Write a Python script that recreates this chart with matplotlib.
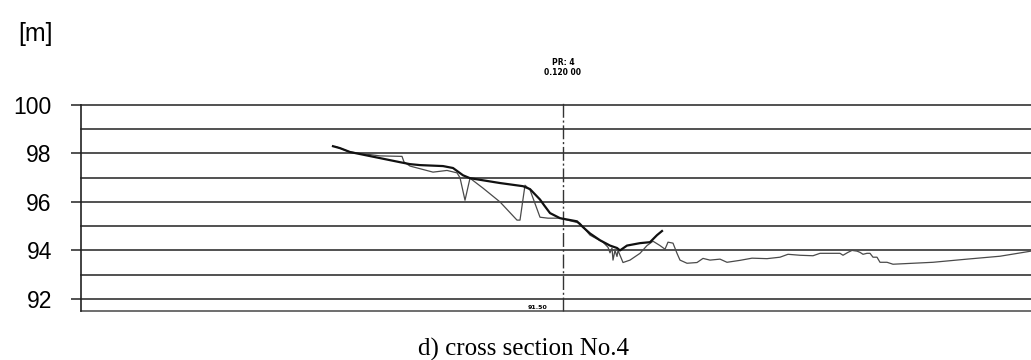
import matplotlib.pyplot as plt
import numpy as np

# cross section No.4 - station [m] and elevation [m]
new_x = [25.2, 25.9, 26.9, 29.4, 31.9, 32.9, 33.9, 36.2, 37.2, 38.2,
         38.9, 41.9, 44.2, 44.9, 45.9, 46.3, 46.9, 47.9, 49.6, 50.2,
         50.9, 51.9, 52.9, 53.6, 53.9, 54.6, 55.9, 56.9, 57.6, 58.1]
new_z = [98.30, 98.22, 98.06, 97.85, 97.64, 97.56, 97.52, 97.48, 97.40, 97.10,
         96.98, 96.78, 96.65, 96.53, 96.10, 95.87, 95.54, 95.33, 95.20, 94.96,
         94.70, 94.42, 94.20, 94.10, 94.00, 94.20, 94.30, 94.34, 94.63, 94.80]

old_x = [25.5, 26.9, 29.9, 32.1, 32.3, 32.9, 35.2, 36.6, 37.6, 37.9,
         38.4, 38.9, 40.2, 41.9, 43.6, 43.9, 44.4, 44.9, 45.9, 46.7,
         47.9, 49.9, 50.9, 52.2, 52.7, 52.9, 53.1, 53.2, 53.4, 53.6,
         53.7, 54.2, 54.9, 55.9, 56.6, 57.2, 57.9, 58.4, 58.7, 59.2,
         59.6, 59.9, 60.6, 61.6, 62.2, 62.9, 63.9, 64.6, 65.9, 67.1,
         68.6, 69.9, 70.7, 71.9, 73.2, 73.9, 74.9, 75.9, 76.2, 76.7,
         77.1, 77.6, 77.9, 78.2, 78.6, 78.9, 79.2, 79.6, 79.9, 80.6,
         81.2, 83.2, 85.2, 88.6, 91.9, 95.0]
old_z = [98.28, 98.06, 97.90, 97.88, 97.65, 97.48, 97.23, 97.30, 97.20, 97.00,
         96.07, 96.98, 96.57, 96.00, 95.25, 95.25, 96.69, 96.50, 95.37, 95.33,
         95.33, 95.12, 94.63, 94.34, 94.13, 93.90, 94.10, 93.60, 94.00, 93.75,
         94.00, 93.50, 93.60, 93.88, 94.20, 94.38, 94.20, 94.05, 94.34, 94.30,
         93.88, 93.60, 93.47, 93.50, 93.67, 93.60, 93.64, 93.51, 93.59, 93.68,
         93.66, 93.72, 93.84, 93.80, 93.78, 93.88, 93.88, 93.88, 93.80, 93.92,
         94.00, 93.97, 93.92, 93.84, 93.88, 93.88, 93.72, 93.72, 93.51, 93.51,
         93.43, 93.47, 93.51, 93.64, 93.76, 93.97]

grid_levels = np.arange(92, 101, 1)
tick_levels = [92, 94, 96, 98, 100]
profile_x = 48.2
z_bottom = 91.5

fig = plt.figure(figsize=(10.31, 3.6), dpi=100)
ax = fig.add_axes([81 / 1031, 1 - 311 / 360, 1 - 81 / 1031, (311 - 105) / 360])
ax.set_xlim(0, 95)
ax.set_ylim(z_bottom, 100)

# horizontal level lines every metre
for lev in grid_levels:
    ax.axhline(lev, color='#333333', lw=1.2, clip_on=False, zorder=1)
ax.axhline(z_bottom, color='#555555', lw=1.2, clip_on=False, zorder=1)

# profile axis
ax.axvline(profile_x, color='#333333', lw=1.0, linestyle=(0, (10, 2, 1.5, 2)),
           ymax=1.01, clip_on=False)

ax.plot(old_x, old_z, color='#4a4a4a', lw=0.9, zorder=3)
ax.plot(new_x, new_z, color='#111111', lw=1.6, zorder=4)

for s in ['top', 'right', 'bottom']:
    ax.spines[s].set_visible(False)
ax.spines['left'].set_linewidth(1.2)
ax.spines['left'].set_color('#222222')

ax.set_yticks(tick_levels)
ax.set_yticklabels([str(t) for t in tick_levels], fontsize=16.5,
                   family='Liberation Sans')
ax.tick_params(axis='y', length=7, width=1.2, color='#333333', pad=14)
ax.set_xticks([])

ax.text(profile_x, 101.55, 'PR: 4\n0.120 00', ha='center', va='center',
        fontsize=5.5, fontweight='bold', linespacing=1.1, clip_on=False)
ax.text(profile_x - 1.6, z_bottom + 0.04, '91.50', ha='right', va='bottom',
        fontsize=4.5, fontweight='bold')

fig.text(18 / 1031, 1 - 34 / 360, '[m]', fontsize=18, va='center', ha='left',
         family='Liberation Sans')
fig.text(523 / 1031, 1 - 349 / 360, 'd) cross section No.4', fontsize=18,
         ha='center', va='center', family='Liberation Serif')

fig.savefig('out.png', dpi=100)
